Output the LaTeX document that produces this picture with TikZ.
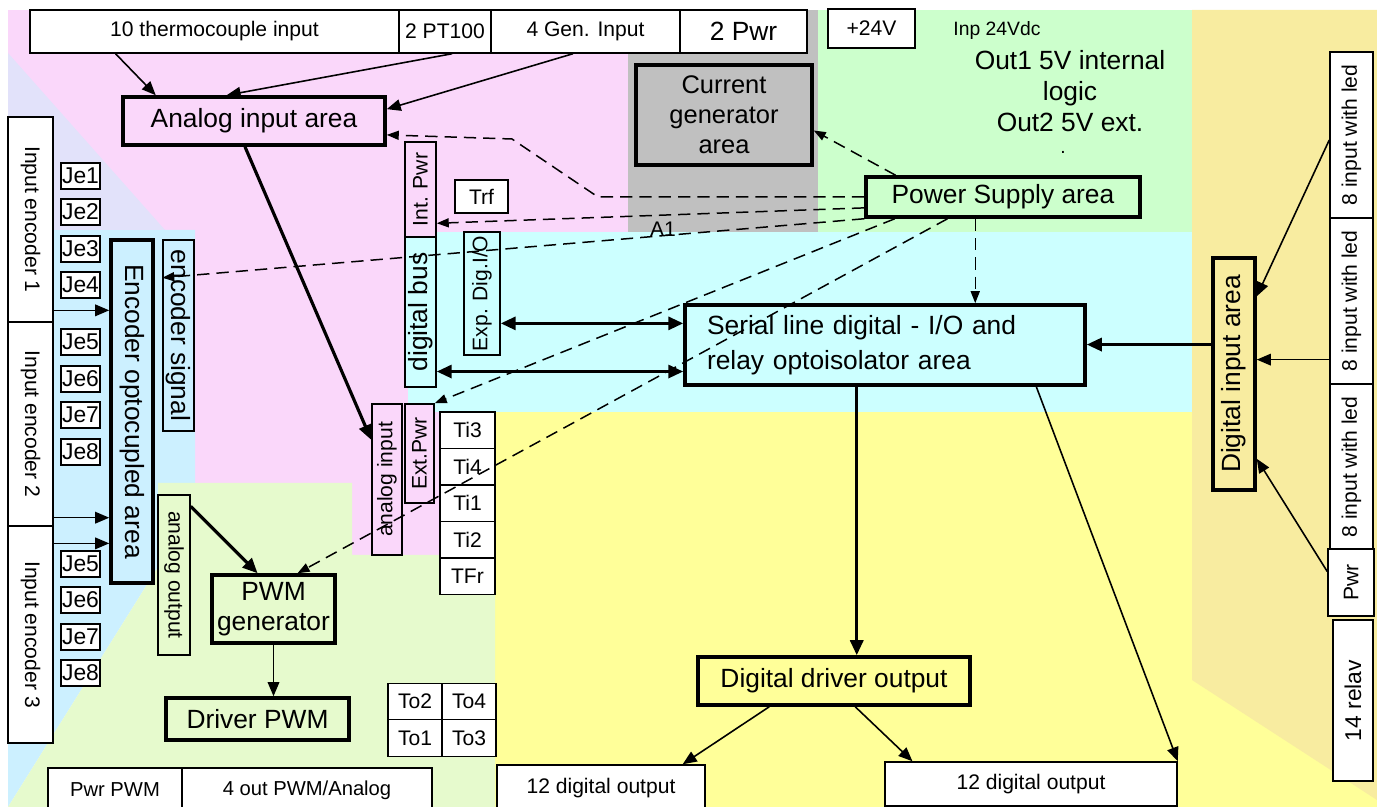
\documentclass[tikz,border=0pt]{standalone}
\usepackage{fontspec}
\setmainfont{Liberation Sans}
\usepackage{graphicx}
\usetikzlibrary{arrows.meta, calc}

\definecolor{pinkbg}{RGB}{250,215,250}
\definecolor{graybg}{RGB}{192,192,192}
\definecolor{greenbg}{RGB}{204,255,204}
\definecolor{cyanbg}{RGB}{204,255,255}
\definecolor{skybg}{RGB}{204,240,255}
\definecolor{lavbg}{RGB}{226,226,250}
\definecolor{lgreenbg}{RGB}{230,250,205}
\definecolor{yellowbg}{RGB}{255,255,153}
\definecolor{tanbg}{RGB}{248,236,160}

\newcommand\fnbig{\fontsize{15}{17.5}\selectfont}
\newcommand\fnsmall{\fontsize{12}{14}\selectfont}
\newcommand\fnmini{\fontsize{11}{13}\selectfont}

\begin{document}
\begin{tikzpicture}[
    x=0.02cm, y=-0.02cm,
    wh/.style 2 args={minimum width=#1*0.02cm, minimum height=#2*0.02cm},
    box/.style={rectangle, draw, line width=0.85pt, fill=white, inner sep=0pt, font=\fnsmall},
    area/.style={rectangle, draw, line width=2pt, inner sep=0pt, font=\fnbig},
    jebox/.style={box, wh={39}{26}, font=\fontsize{13}{15}\selectfont},
    arr/.style={-{Triangle[length=2.8mm, width=2.3mm]}, line width=0.9pt},
    thickarr/.style={-{Triangle[length=3mm, width=2.6mm]}, line width=1.8pt},
    dblarr/.style={{Triangle[length=3mm, width=2.6mm]}-{Triangle[length=3mm, width=2.6mm]}, line width=1.8pt},
    dasharr/.style={-{Triangle[length=2.4mm, width=1.8mm]}, line width=0.85pt, dash pattern=on 7pt off 4pt}
]
\useasboundingbox (0,0) rectangle (1377,807);
\clip (0,0) rectangle (1377,807);

% Background areas
\fill[pinkbg] (8,10) rectangle (628,555);
\fill[graybg] (628,10) rectangle (818,232);
\fill[greenbg] (818,10) rectangle (1192,232);
\fill[cyanbg] (408,232) rectangle (1192,412);
\fill[yellowbg] (495,412) rectangle (1377,807);
\fill[tanbg] (1192,10) -- (1377,10) -- (1377,800) -- (1192,680) -- cycle;
\fill[skybg] (8,230) -- (195,230) -- (195,483) -- (158,483) -- (158,567) -- (8,807) -- cycle;
\fill[lavbg] (8,53) -- (165,230) -- (8,230) -- cycle;
\fill[lgreenbg] (158,483) -- (352,483) -- (352,555) -- (495,555) -- (495,807) -- (8,807) -- (158,567) -- cycle;

% Top connectors
\node[box, wh={369}{43}] (tc) at (214.5,31.5) {10 thermocouple input};
\node[box, wh={92}{43}] (pt) at (445,31.5) {2 PT100};
\node[box, wh={189}{43}] (gen) at (585.5,31.5) {4 Gen. Input};
\node[box, wh={127}{43}, font=\fnbig] (pwr) at (743.5,31.5) {2 Pwr};
\node[box, wh={87}{39}] (vin) at (871.5,28.5) {+24V};
\node[font=\fnmini] (inp) at (997,31) {Inp 24Vdc};
\node[font=\fnbig, align=center, inner sep=0pt] (outs) at (1070,91) {Out1 5V internal\\logic\\Out2 5V ext.};
\node[font=\fnmini, inner sep=0pt] (dot) at (1063,152) {.};

% Main areas
\node[area, wh={262}{48}, fill=pinkbg] (aia) at (254,121) {Analog input area};
\node[area, wh={176}{100}, fill=graybg, align=center, font=\fontsize{14.5}{17}\selectfont] (cga) at (724,115) {Current\\generator\\area};
\node[area, wh={274}{40}, fill=greenbg] (psa) at (1003,197) {Power Supply area};
\node[area, wh={400}{80}, fill=cyanbg, align=left, text width=7.12cm, font=\fontsize{15}{20}\selectfont] (serial) at (885,345) {Serial line digital - I/O and\\relay optoisolator area};
\node[area, wh={272}{48}, fill=yellowbg] (ddo) at (834,681) {Digital driver output};
\node[area, wh={42}{232}, fill=tanbg] (dia) at (1234,374) {\rotatebox{90}{Digital input area}};
\node[area, wh={42}{343}, fill=skybg] (encopt) at (132,411.5) {\rotatebox{-90}{Encoder optocupled area}};
\node[area, wh={123}{68}, fill=lgreenbg, align=center, font=\fontsize{15}{17}\selectfont] (pwmgen) at (273.5,609) {PWM\\generator};
\node[area, wh={183}{42}, fill=lgreenbg] (drvpwm) at (257.5,719) {Driver PWM};

% Vertical connectors
\node[box, wh={31}{95}, fill=pinkbg] (intpwr) at (420.5,189.5) {\rotatebox{90}{Int. Pwr}};
\node[box, wh={31}{150}, fill=cyanbg, font=\fnbig] (dbus) at (420.5,312) {\rotatebox{90}{digital bus}};
\node[box, wh={36}{123}, fill=cyanbg] (expdig) at (482,293.5) {\rotatebox{90}{Exp. Dig.I/O}};
\node[box, wh={30}{151}, fill=pinkbg] (anain) at (387,479.5) {\rotatebox{90}{analog input}};
\node[box, wh={29}{99}, fill=pinkbg] (extpwr) at (419.5,453.5) {\rotatebox{90}{Ext.Pwr}};
\node[box, wh={31}{191}, fill=skybg, font=\fnbig] (encsig) at (178.5,335.5) {\rotatebox{-90}{encoder signal}};
\node[box, wh={32}{160}, fill=lgreenbg] (anaout) at (174,575) {\rotatebox{-90}{analog output}};
\node[box, wh={53}{33}] (trf) at (481.5,196.5) {Trf};

% Encoder inputs
\node[box, wh={45}{205}] (ie1) at (30.5,219.5) {\rotatebox{-90}{Input encoder 1}};
\node[box, wh={45}{204}] (ie2) at (30.5,424) {\rotatebox{-90}{Input encoder 2}};
\node[box, wh={45}{217}] (ie3) at (30.5,634.5) {\rotatebox{-90}{Input encoder 3}};
\foreach \n/\t/\y in {jea1/Je1/176, jea2/Je2/212, jea3/Je3/249, jea4/Je4/285, jea5/Je5/342, jea6/Je6/379, jea7/Je7/415, jea8/Je8/452, jeb5/Je5/564, jeb6/Je6/600, jeb7/Je7/637, jeb8/Je8/673} {
    \node[jebox] (\n) at (80.5,\y) {\t};
}

% Ti and To terminals
\foreach \n/\t [count=\i from 0] in {ti3/Ti3, ti4/Ti4, ti1/Ti1, ti2/Ti2, tfr/TFr} {
    \pgfmathsetmacro{\ypos}{430.25 + \i*36.5}
    \node[box, wh={55}{36.5}] (\n) at (467.5,\ypos) {\t};
}
\node[box, wh={54}{36.5}] (to2) at (415,701.5) {To2};
\node[box, wh={54}{36.5}] (to4) at (469,701.5) {To4};
\node[box, wh={54}{36.5}] (to1) at (415,738) {To1};
\node[box, wh={54}{36.5}] (to3) at (469,738) {To3};

% Right side
\foreach \n [count=\i from 0] in {ina, inb, inc} {
    \pgfmathsetmacro{\ypos}{135 + \i*166}
    \node[box, wh={43}{166}] (\n) at (1351.5,\ypos) {\rotatebox{90}{8 input with led}};
}
\node[box, wh={46}{67}] (pwrr) at (1351,582.5) {\rotatebox{90}{Pwr}};
\node[box, wh={40}{161}, font=\fontsize{13}{15}\selectfont] (relay) at (1353,700.5) {\rotatebox{90}{14 relav}};

% Bottom outputs
\node[box, wh={134}{44}, font=\fontsize{11.5}{13}\selectfont] (pwrpwm) at (115,790) {Pwr PWM};
\node[box, wh={250}{44}, font=\fontsize{11.5}{13}\selectfont] (outpwm) at (307,790) {4 out PWM/Analog};
\node[box, wh={208}{46}] (do1) at (601,788) {12 digital output};
\node[box, wh={292}{44}] (do2) at (1031,784) {12 digital output};

% Analog path
\draw[arr] ($(tc.south west)!.233!(tc.south east)$) -- ($(aia.north west)!.13!(aia.north east)$);
\draw[arr] ($(pt.south west)!.576!(pt.south east)$) -- ($(aia.north west)!.397!(aia.north east)$);
\draw[arr] ($(gen.south west)!.434!(gen.south east)$) -- ($(aia.north east)!.27!(aia.south east)$);
\draw[thickarr] ($(aia.south west)!.466!(aia.south east)$) -- ($(anain.north west)!.24!(anain.south west)$);

% Encoder path
\draw[arr] ($(ie1.north east)!.94!(ie1.south east)$) coordinate (e1) -- (e1 -| encopt.west);
\draw[arr] ($(ie2.north east)!.956!(ie2.south east)$) coordinate (e2) -- (e2 -| encopt.west);
\draw[arr] ($(ie3.north east)!.083!(ie3.south east)$) coordinate (e3) -- (e3 -| encopt.west);

% PWM path
\draw[thickarr] ($(anaout.north east)!.075!(anaout.south east)$) -- ($(pwmgen.north west)!.374!(pwmgen.north east)$);
\draw[arr] (pwmgen.south) -- (pwmgen.south |- drvpwm.north);

% Digital path
\draw[dblarr] ($(expdig.north east)!.74!(expdig.south east)$) coordinate (x1) -- (x1 -| serial.west);
\draw[dblarr] ($(dbus.north east)!.893!(dbus.south east)$) coordinate (x2) -- (x2 -| serial.west);
\draw[thickarr] ($(dia.north west)!.375!(dia.south west)$) coordinate (d1) -- (d1 -| serial.east);
\draw[thickarr] ($(serial.south west)!.43!(serial.south east)$) coordinate (s1) -- (s1 |- ddo.north);
\draw[arr] ($(ddo.south west)!.265!(ddo.south east)$) -- ($(do1.north west)!.89!(do1.north east)$);
\draw[arr] ($(ddo.south west)!.577!(ddo.south east)$) -- ($(do2.north west)!.096!(do2.north east)$);
\draw[arr] ($(serial.south west)!.875!(serial.south east)$) -- (do2.north east);

% Digital inputs
\draw[arr] ($(ina.north west)!.53!(ina.south west)$) -- ($(dia.north east)!.17!(dia.south east)$);
\draw[arr] ($(inb.north west)!.85!(inb.south west)$) coordinate (i2) -- (i2 -| dia.east);
\draw[arr] ($(pwrr.north west)!.34!(pwrr.south west)$) -- ($(dia.north east)!.86!(dia.south east)$);

% Power supply lines
\draw[dasharr] ($(psa.north west)!.113!(psa.north east)$) -- ($(cga.north east)!.65!(cga.south east)$);
\draw[dasharr] (psa.west) -- (598,197) -- (512,139) -- ($(aia.north east)!.77!(aia.south east)$);
\draw[dasharr] ($(psa.north west)!.75!(psa.south west)$) -- ($(intpwr.north east)!.85!(intpwr.south east)$);
\draw[dasharr] (psa.south west) -- ($(encsig.north west)!.2!(encsig.south west)$);
\draw[dasharr] ($(psa.south west)!.11!(psa.south east)$) -- (extpwr.north east);
\draw[dasharr] ($(psa.south west)!.30!(psa.south east)$) -- ($(pwmgen.north west)!.69!(pwmgen.north east)$);
\draw[dasharr] ($(psa.south west)!.40!(psa.south east)$) coordinate (p1) -- (p1 |- serial.north);
\node[font=\fnsmall] (a1) at (663,229) {A1};

\end{tikzpicture}
\end{document}
